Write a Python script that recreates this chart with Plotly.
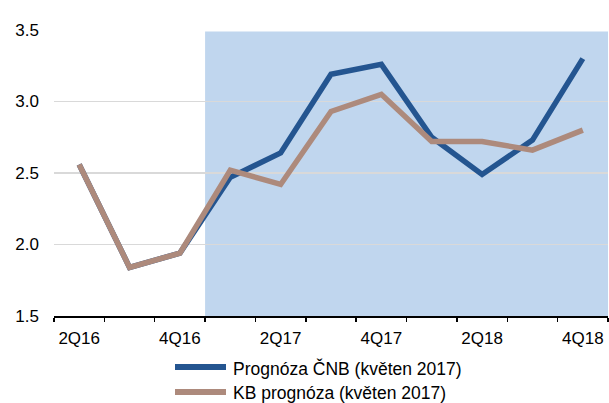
import plotly.graph_objects as go

quarters = ["2Q16", "3Q16", "4Q16", "1Q17", "2Q17", "3Q17", "4Q17", "1Q18", "2Q18", "3Q18", "4Q18"]
cnb = [2.56, 1.84, 1.94, 2.47, 2.64, 3.19, 3.26, 2.75, 2.49, 2.73, 3.30]
kb = [2.56, 1.84, 1.94, 2.52, 2.42, 2.93, 3.05, 2.72, 2.72, 2.66, 2.80]
y_ticks = [1.5, 2.0, 2.5, 3.0, 3.5]
forecast_start = "1Q17"

names = ["Prognóza ČNB (květen 2017)", "KB prognóza (květen 2017)"]
colors = ["#245590", "#ad8a7c"]

xs = list(range(len(quarters)))
fs = quarters.index(forecast_start)

fig = go.Figure()
fig.add_shape(type="rect", xref="x", yref="y", x0=fs - 0.5, x1=len(quarters) - 0.5,
              y0=1.5, y1=3.49, fillcolor="#c0d6ee", line_width=0, layer="below")

for vals, name, col in [(cnb, names[0], colors[0]), (kb, names[1], colors[1])]:
    fig.add_trace(go.Scatter(x=xs, y=vals, mode="lines", name=name,
                             line=dict(color=col, width=5.5), showlegend=False))

# manual legend
L, R, T, B = 54, 608, 30, 316
def px(x):
    return (x - L) / (R - L)
def py(y):
    return (B - y) / (B - T)
for i, (name, col) in enumerate(zip(names, colors)):
    yy = 367 + 25 * i
    fig.add_shape(type="line", xref="paper", yref="paper", x0=px(175), x1=px(226),
                  y0=py(yy), y1=py(yy), line=dict(color=col, width=6))
    fig.add_annotation(xref="paper", yref="paper", x=px(231), y=py(yy + 1), text=name,
                       showarrow=False, xanchor="left", yanchor="middle",
                       font=dict(size=17.5, color="#000000"))

fig.update_layout(
    width=609, height=403,
    margin=dict(l=L, r=609 - R, t=T, b=403 - B, autoexpand=False),
    paper_bgcolor="white", plot_bgcolor="white",
    font=dict(family="Liberation Sans, Arial, sans-serif", size=17, color="#000000"),
)
fig.update_xaxes(
    range=[-0.5, len(quarters) - 0.5],
    tickvals=xs[::2], ticktext=quarters[::2],
    ticks="", showgrid=False, zeroline=False,
    showline=True, linecolor="#000000", linewidth=1.5,
    ticklabelstandoff=6,
    minor=dict(tickvals=[i - 0.5 for i in range(len(quarters) + 1)], ticks="outside",
               ticklen=4, tickcolor="#000000", tickwidth=1.5, showgrid=False),
)
fig.update_yaxes(
    range=[1.5, 3.5], tickvals=y_ticks, tickformat=".1f",
    showgrid=True, gridcolor="#d9d9d9", gridwidth=1.5,
    zeroline=False, showline=False, ticks="", ticklabelstandoff=14,
)

fig.write_html("out.html", config={"displayModeBar": False, "staticPlot": True})
with open("out.html", encoding="utf-8") as f:
    html = f.read()
html = html.replace("<body>", '<body style="margin:0;padding:0;overflow:hidden">', 1)
with open("out.html", "w", encoding="utf-8") as f:
    f.write(html)
